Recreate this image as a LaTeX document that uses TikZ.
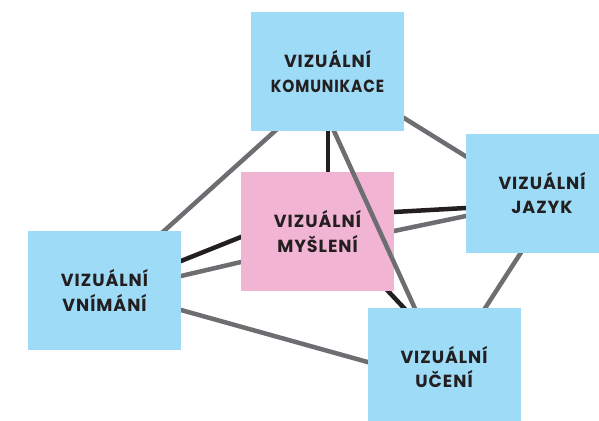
\documentclass[tikz,border=0pt]{standalone}
\usepackage{fontspec}
\setmainfont{Poppins}[LetterSpace=5.5]
\definecolor{boxblue}{RGB}{157,219,246}
\definecolor{boxpink}{RGB}{242,180,211}
\definecolor{linegrey}{RGB}{109,110,113}
\definecolor{lineblack}{RGB}{35,31,32}
\definecolor{txt}{RGB}{35,31,32}
\pgfdeclarelayer{back}
\pgfdeclarelayer{mid}
\pgfdeclarelayer{midline}
\pgfsetlayers{back,mid,midline,main}
\tikzset{
  box/.style={minimum width=153pt, minimum height=119pt, inner sep=0pt, outer sep=0pt,
    align=center, text=txt, font=\fontsize{17.5}{24.5}\selectfont\bfseries},
  bluebox/.style={box, fill=boxblue},
  pinkbox/.style={box, fill=boxpink},
  conn/.style={line width=4.5pt, shorten <=-6pt, shorten >=-6pt},
  greyconn/.style={conn, draw=linegrey},
  blackconn/.style={conn, draw=lineblack},
}
\begin{document}
\begin{tikzpicture}[x=1pt, y=-1pt]
\useasboundingbox (0,0) rectangle (599,420);
\begin{pgfonlayer}{mid}
\node[pinkbox] (mys) at (317.5,231.5) {VIZUÁLNÍ\\MYŠLENÍ};
\end{pgfonlayer}
\node[bluebox] (kom) at (327.5,71.5) {VIZUÁLNÍ\\\scalebox{0.875}[1]{KOMUNIKACE}};
\node[bluebox, minimum width=152pt] (jaz) at (542,193) {VIZUÁLNÍ\\JAZYK};
\node[bluebox] (vni) at (104.5,290.5) {VIZUÁLNÍ\\VNÍMÁNÍ};
\node[bluebox] (uce) at (444,367) {VIZUÁLNÍ\\UČENÍ};
\begin{pgfonlayer}{back}
\draw[greyconn] ([xshift=24pt]kom.south west) -- ([xshift=136pt]vni.north west);
\draw[blackconn, shorten <=-2pt, shorten >=-2pt] ([xshift=0.5pt]kom.south) -- ([xshift=10.5pt]mys.north);
\draw[greyconn] ([yshift=13pt]kom.south east) -- ([yshift=-23pt]jaz.north west);
\draw[blackconn] ([yshift=19.5pt]mys.east) -- ([yshift=-15pt]jaz.west);
\draw[greyconn] ([yshift=0.5pt]mys.east) -- ([yshift=-23pt]jaz.west);
\draw[blackconn] ([yshift=-5.5pt]mys.west) -- ([yshift=29.5pt]vni.east);
\draw[greyconn] ([yshift=-30.5pt]mys.west) -- ([yshift=14.5pt]vni.east);
\draw[blackconn] ([xshift=-6pt]mys.south east) -- ([xshift=36pt]uce.north west);
\draw[greyconn] ([xshift=55pt]jaz.south west) -- ([xshift=118pt]uce.north west);
\draw[greyconn] ([yshift=-19.5pt]vni.east) -- ([yshift=5pt]uce.west);
\end{pgfonlayer}
\begin{pgfonlayer}{midline}
\draw[greyconn] ([xshift=83pt]kom.south west) -- ([xshift=47pt]uce.north west);
\end{pgfonlayer}
\end{tikzpicture}
\end{document}
